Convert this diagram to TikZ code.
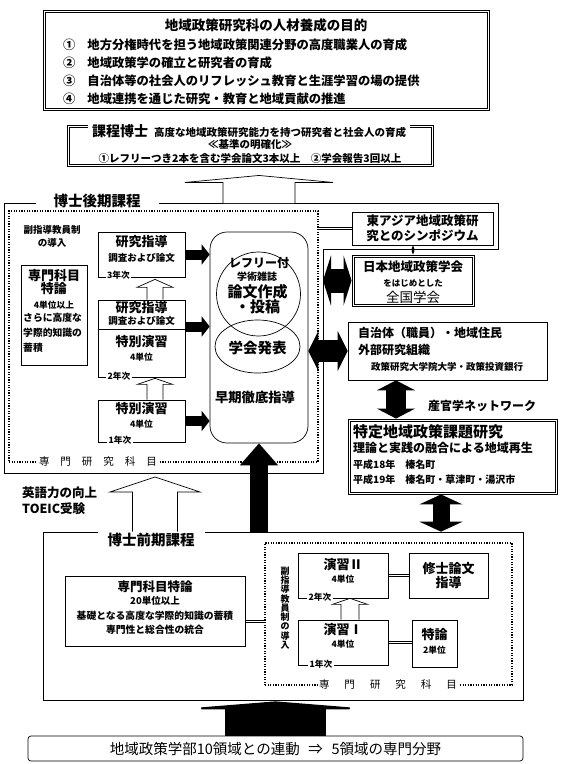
\documentclass[tikz,border=0pt]{standalone}
\usepackage{fontspec}
\setmainfont{Noto Sans CJK JP}
\usetikzlibrary{arrows.meta,calc,shapes.geometric}
\newcommand{\jsz}[2]{\fontsize{#1}{#2}\selectfont}
% hollow up-arrow: base, tip, shaft half width, head half width, head length
\newcommand{\hollowup}[5]{%
  \draw[line width=0.7pt,fill=white,line join=miter] let \p1=(#1), \p2=(#2) in
    (\x1-#3pt,\y1) -- (\x1-#3pt,\y2-#5pt) -- (\x1-#4pt,\y2-#5pt) -- (\x1,\y2)
    -- (\x1+#4pt,\y2-#5pt) -- (\x1+#3pt,\y2-#5pt) -- (\x1+#3pt,\y1);}
% inner frame of a double-ruled box
\newcommand{\innerframe}[1]{%
  \draw[line width=0.6pt] ([shift={(2.4pt,2.4pt)}]#1.south west) rectangle ([shift={(-2.4pt,-2.4pt)}]#1.north east);}
% two parallel rules between two points
\newcommand{\dblline}[2]{%
  \draw[line width=0.6pt] ([yshift=1.2pt]#1) -- ([yshift=1.2pt]#2) ([yshift=-1.2pt]#1) -- ([yshift=-1.2pt]#2);}

\begin{document}
\begin{tikzpicture}[x=1pt,y=-1pt,font=\bfseries,
  bx/.style={draw,line width=0.7pt,fill=white,inner sep=0pt},
  dbx/.style={bx,line width=0.9pt},
  dotfr/.style={draw,line width=1.2pt,dash pattern=on 1.2pt off 1.4pt,inner sep=0pt},
  lbl/.style={fill=white,inner sep=1.5pt},
  big/.style={font=\jsz{13}{14}\bfseries},
  mid/.style={font=\jsz{12.3}{13}\bfseries},
  sm/.style={font=\jsz{9.5}{10}\bfseries},
  tiny/.style={font=\jsz{8.7}{9}\bfseries},
  sidearr/.style={line width=10pt,-{Triangle[width=20pt,length=8pt]}},
  fatup/.style={line width=18pt,-{Triangle[width=37pt,length=22pt]}},
  fatdbl/.style n args={3}{line width=#1pt,{Triangle[width=#2pt,length=#3pt]}-{Triangle[width=#2pt,length=#3pt]}},
]
\fill[white] (0,0) rectangle (566,764);
\useasboundingbox (0,0) rectangle (566,764);

% aims of the graduate school
\node[dbx,minimum width=446,minimum height=100] (aims) at (266,60) {};
\innerframe{aims}
\node[font=\jsz{13.5}{14}\bfseries] (aimsttl) at (266,25) {地域政策研究科の人材養成の目的};
\foreach \i/\y/\t in {①/45/地方分権時代を担う地域政策関連分野の高度職業人の育成,
                      ②/63/地域政策学の確立と研究者の育成,
                      ③/81/自治体等の社会人のリフレッシュ教育と生涯学習の場の提供,
                      ④/99/地域連携を通じた研究・教育と地域貢献の推進}
  \node[mid,anchor=west,inner sep=0pt] (aim\y) at (63,\y) {\i\hspace{12pt}\t};

% doctorate by coursework
\node[dbx,minimum width=366,minimum height=41] (katei) at (250,145.5) {};
\innerframe{katei}
\node[fill=white,anchor=west,inner xsep=4pt,inner ysep=2pt] (kateittl) at (88,131)
  {{\jsz{14}{15}課程博士}\hspace{6pt}{\jsz{10.5}{11}高度な地域政策研究能力を持つ研究者と社会人の育成}};
\node[font=\jsz{10.5}{11}\bfseries] (kijun) at (250,145) {≪基準の明確化≫};
\node[font=\jsz{10.5}{11}\bfseries] (kijun2) at (250,158) {①レフリーつき2本を含む学会論文3本以上\hspace{1em}②学会報告3回以上};

% doctoral (later) course
\coordinate (kokiTL) at (4,203);
\coordinate (kokiR) at (323,249);
\draw[line width=0.7pt] (kokiTL) -- (498,203) -- (498,249) -- (kokiR) -- (323,473) -- (4,473) -- cycle;
\node[font=\jsz{14.5}{15}\bfseries,fill=white,inner xsep=18pt,inner ysep=1pt] (koki) at (97,201) {博士後期課程};
\node[dotfr,minimum width=309,minimum height=251] (kdot) at (163.5,336.5) {};
\node[lbl,font=\jsz{10.5}{11}\mdseries] (kdotlbl) at (98,462) {専\hspace{11pt}門\hspace{11pt}研\hspace{11pt}究\hspace{11pt}科\hspace{11pt}目};
\node[font=\jsz{9.5}{13}\bfseries,align=center] (kfuku) at (52,236.5) {副指導教員制\\の導入};

\node[bx,minimum width=66,minimum height=100] (ktoku) at (54,315) {};
\node[font=\jsz{13}{13}\bfseries,align=center] (ktoku1) at (54,282) {専門科目\\特論};
\node[tiny] (ktoku2) at (54,305) {4単位以上};
\node[font=\jsz{9.8}{15}\bfseries,align=left,anchor=west,inner sep=0pt] (ktoku3) at (23,333) {さらに高度な\\学際的知識の\\蓄積};

\node[bx,minimum width=87,minimum height=45] (k3) at (141.5,254.5) {};
\node[big] (k3a) at (141.5,242) {研究指導};
\node[sm] (k3b) at (141.5,258) {調査および論文};
\node[lbl,tiny] (k3y) at (118.5,275) {3年次};

\node[bx,minimum width=87,minimum height=77] (k2) at (141.5,338.5) {};
\draw[line width=0.7pt] ($(k2.west)+(0,-9.5)$) -- ($(k2.east)+(0,-9.5)$);
\node[big] (k2a) at (141.5,308) {研究指導};
\node[sm] (k2b) at (141.5,321) {調査および論文};
\node[big] (k2c) at (141.5,342) {特別演習};
\node[tiny] (k2d) at (141.5,357) {4単位};
\node[lbl,tiny] (k2y) at (119,376) {2年次};

\node[bx,minimum width=87,minimum height=42] (k1) at (141.5,421) {};
\node[big] (k1a) at (141.5,409) {特別演習};
\node[tiny] (k1b) at (141.5,424) {4単位};
\node[lbl,tiny] (k1y) at (120,440) {1年次};

\coordinate (hx) at (155,0);
\hollowup{hx |- k2.north}{$(hx |- k3.south)+(0,2)$}{8}{18}{8}
\hollowup{hx |- k1.north}{$(hx |- k2.south)+(0,1)$}{8}{17.5}{6}

% early intensive supervision
\node[bx,rounded corners=17pt,minimum width=98,minimum height=211] (hayaki) at (259,337.5) {};
\node[draw,line width=0.7pt,circle,minimum size=84,inner sep=0pt] (referee) at (258.5,294) {};
\node[draw,line width=0.7pt,ellipse,minimum width=85,minimum height=53,inner sep=0pt] (happyo) at (257.5,346.5) {};
\node[font=\jsz{12}{12}\bfseries] (ref1) at (259,263) {レフリー付};
\node[font=\jsz{10}{10}\bfseries] (ref2) at (257,277) {学術雑誌};
\node[font=\jsz{15}{15}\bfseries] (ref3) at (257.5,292) {論文作成};
\node[font=\jsz{15}{15}\bfseries] (ref4) at (257.5,307) {・投稿};
\node[font=\jsz{14.5}{15}\bfseries] (happyo1) at (257.5,348) {学会発表};
\node[font=\jsz{13.3}{14}\bfseries] (hayaki1) at (255,397) {早期徹底指導};

\draw[sidearr] (k3.east) -- (k3.east -| hayaki.west);
\draw[sidearr] ($(k2.east)+(0,-12)$) -- ($(k2.east -| hayaki.west)+(0,-12)$);
\draw[sidearr] (k1.east) -- (k1.east -| hayaki.west);

% outside partners
\node[bx,minimum width=141,minimum height=33,font=\jsz{12.5}{15}\bfseries,align=center] (asia) at (422.5,228.5) {東アジア地域政策研\\究とのシンポジウム};
\coordinate (asiaL) at (kdot.east |- asia.west);
\dblline{asiaL}{asia.west}
\node[dbx,minimum width=122,minimum height=51] (nihon) at (413,280.5) {};
\innerframe{nihon}
\node[font=\jsz{12.5}{13}\bfseries] (nihon1) at (413,267) {日本地域政策学会};
\node[font=\jsz{8.5}{9}\bfseries] (nihon2) at (413,283) {をはじめとした};
\node[font=\jsz{13.5}{14}\mdseries] (nihon3) at (413,297) {全国学会};
\draw[line width=1.2pt,{Stealth[length=4pt]}-{Stealth[length=4pt]}] (nihon.north) -- (nihon.north |- asia.south);
\draw[fatdbl={24}{50}{8}] (nihon.west -| kokiR) -- (nihon.west);

\node[bx,minimum width=199,minimum height=58] (jichi) at (447.5,351) {};
\node[font=\jsz{12}{17}\bfseries,align=left,anchor=west,inner sep=0pt] (jichi1) at (358,341.5) {自治体（職員）・地域住民\\外部研究組織};
\node[sm] (jichi2) at (447,367) {政策研究大学院大学・政策投資銀行};
\draw[fatdbl={22}{40}{10}] (hayaki.east |- jichi.west) -- (jichi.west);

\node[dbx,minimum width=209,minimum height=75] (tokutei) at (452.5,456.5) {};
\innerframe{tokutei}
\node[font=\jsz{15}{15}\bfseries,anchor=west,inner sep=0pt] (toku1) at (353,432) {特定地域政策課題研究};
\node[font=\jsz{12}{12}\bfseries,anchor=west,inner sep=0pt] (toku2) at (353,448) {理論と実践の融合による地域再生};
\node[font=\jsz{10}{10}\bfseries,anchor=west,inner sep=0pt] (toku3) at (353,465) {平成18年\hspace{1em}榛名町};
\node[font=\jsz{10}{10}\bfseries,anchor=west,inner sep=0pt] (toku4) at (353,480) {平成19年\hspace{1em}榛名町・草津町・湯沢市};
\coordinate (net) at (396,400);
\draw[fatdbl={20}{38}{10}] (net |- jichi.south) -- (net |- tokutei.north);
\node[font=\jsz{12}{12}\bfseries] (netlbl) at (482,406) {産官学ネットワーク};

% master's (earlier) course
\node[bx,fill=none,minimum width=480,minimum height=168] (zenki) at (283,616) {};
\node[font=\jsz{14.5}{15}\bfseries,fill=white,inner xsep=10pt,inner ysep=3pt] (zenkittl) at (151,540) {博士前期課程};
\node[font=\jsz{12.5}{16}\bfseries,align=left,anchor=west,inner sep=0pt] (eigo) at (22,500.5) {英語力の向上\\TOEIC受験};
\coordinate (engx) at (155,477);
\hollowup{engx |- zenki.north}{engx}{22.5}{45}{15}

\draw[fatup] (zenki.north -| hayaki.south) -- (hayaki.south);
\coordinate (lnk) at (441,0);
\draw[fatdbl={17}{43}{10}] (lnk |- tokutei.south) -- (lnk |- zenki.north);

\node[bx,minimum width=180,minimum height=70] (ztoku) at (155,611) {};
\node[font=\jsz{12.5}{13}\bfseries] (ztoku1) at (155,587) {専門科目特論};
\node[sm] (ztoku2) at (155,601) {20単位以上};
\node[font=\jsz{9.8}{13.5}\bfseries,align=center] (ztoku3) at (155,622.5) {基礎となる高度な学際的知識の蓄積\\専門性と総合性の統合};

\node[dotfr,minimum width=247,minimum height=142] (zdot) at (388.5,614) {};
\node[lbl,font=\jsz{10.5}{11}\mdseries] (zdotlbl) at (388,685) {専\hspace{15pt}門\hspace{15pt}研\hspace{15pt}究\hspace{15pt}科\hspace{15pt}目};
\coordinate (ztokuR) at ([yshift=-10pt]ztoku.east);
\coordinate (zdotL) at (ztokuR -| zdot.west);
\dblline{ztokuR}{zdotL}
\node[font=\jsz{9}{9.3}\bfseries,align=center,text width=10pt] (zfuku) at (285,608) {副\\指\\導\\教\\員\\制\\の\\導\\入};

\node[bx,minimum width=90,minimum height=45] (en2) at (343,575.5) {};
\node[big] (en2a) at (343,565) {演習Ⅱ};
\node[tiny] (en2b) at (343,579) {4単位};
\node[lbl,tiny] (en2y) at (320,597) {2年次};
\node[bx,minimum width=79,minimum height=45,font=\jsz{13}{14}\bfseries,align=center] (shuron) at (448.5,575.5) {修士論文\\指導};
\dblline{en2.east}{shuron.west}

\node[bx,minimum width=90,minimum height=45] (en1) at (343,642.5) {};
\node[big] (en1a) at (343,630) {演習Ⅰ};
\node[tiny] (en1b) at (343,644) {4単位};
\node[lbl,tiny] (en1y) at (321,664) {1年次};
\node[bx,minimum width=45,minimum height=47] (toku) at (434.5,643.5) {};
\node[big] (toku1) at (434.5,635) {特論};
\node[tiny] (toku2) at (434.5,650) {2単位};
\coordinate (tokuL) at (en1.east -| toku.west);
\dblline{en1.east}{tokuL}
\coordinate (ex) at (350,0);
\hollowup{ex |- en1.north}{ex |- en2.south}{9}{17.5}{6}

% undergraduate base
\node[bx,rounded corners=3pt,minimum width=495,minimum height=25,font=\jsz{14.5}{15}\mdseries] (base) at (275.5,748.5) {地域政策学部10領域との連動\hspace{0.6em}⇒\hspace{0.6em}5領域の専門分野};
\draw[line width=101pt,-{Triangle[width=198pt,length=8pt]}] (base.north) -- ($(base.north |- zenki.south)+(0,1)$);

% top arrow to coursework doctorate
\hollowup{hayaki.north |- kokiTL}{$(katei.south -| hayaki.north)+(0,9)$}{36}{74}{7}
\end{tikzpicture}
\end{document}
